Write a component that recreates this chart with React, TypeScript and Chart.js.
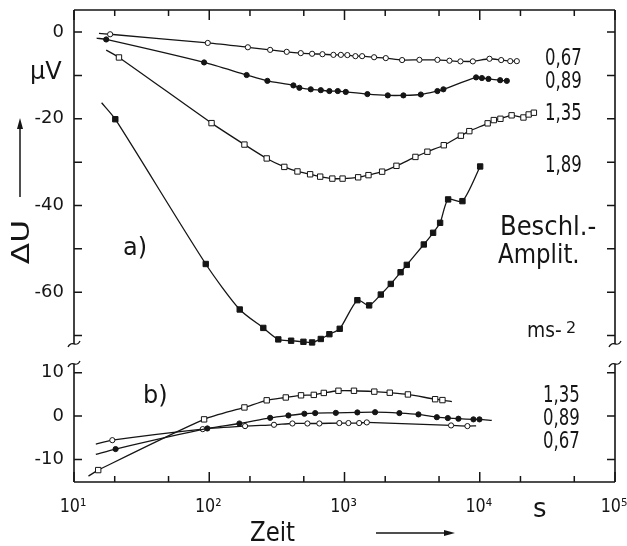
import React, { useEffect, useRef } from "react";
import { Chart, registerables } from "chart.js";

Chart.register(...registerables);

const FONT = '"DejaVu Sans", "Noto Sans", sans-serif';
const INK = "#151515";

// ---------- panel a) ----------
const tA067 = [15.3, 18.5, 97.5, 193, 282, 374, 475, 576, 687, 828, 940, 1050, 1204, 1350, 1655, 2020, 2666, 3580, 4866, 5970, 7200, 8890, 11800, 14400, 16800, 18800];
const vA067 = [-0.3, -0.5, -2.5, -3.5, -4.1, -4.55, -4.85, -5.0, -5.1, -5.25, -5.25, -5.3, -5.55, -5.55, -5.8, -6.0, -6.45, -6.4, -6.4, -6.6, -6.75, -6.75, -6.15, -6.45, -6.7, -6.7];
const bareA067 = [0];

const tA089 = [14.7, 17.3, 91.6, 189, 269, 419, 464, 563, 668, 773, 892, 1022, 1477, 2089, 2726, 3667, 4864, 5386, 9396, 10370, 11600, 14150, 15860];
const vA089 = [-1.4, -1.7, -7.0, -9.9, -11.25, -12.3, -12.85, -13.2, -13.4, -13.6, -13.6, -13.8, -14.3, -14.6, -14.6, -14.4, -13.6, -13.2, -10.45, -10.6, -10.8, -11.1, -11.25];
const bareA089 = [0];

const tA135 = [17.3, 21.5, 104, 182, 266, 359, 449, 557, 661, 813, 968, 1262, 1504, 1898, 2422, 3344, 4101, 5420, 7250, 8374, 11440, 12700, 14220, 17200, 21040, 23000, 25130];
const vA135 = [-4.15, -5.85, -21.0, -25.95, -29.15, -31.1, -32.15, -32.8, -33.35, -33.8, -33.8, -33.5, -33.0, -32.2, -30.85, -28.8, -27.6, -26.1, -23.9, -22.85, -21.05, -20.3, -20.0, -19.2, -19.7, -19.0, -18.6];
const bareA135 = [0];

const tA189 = [16.0, 20.2, 94.2, 168, 251, 324, 403, 497, 576, 668, 773, 922, 1245, 1521, 1856, 2199, 2598, 2888, 3858, 4521, 5093, 5837, 7448, 10070];
const vA189 = [-16.3, -20.1, -53.5, -64.0, -68.25, -70.9, -71.2, -71.45, -71.6, -70.8, -69.7, -68.45, -61.85, -63.05, -60.55, -58.1, -55.4, -53.7, -49.0, -46.3, -44.0, -38.6, -39.0, -31.0];
const bareA189 = [0];

// ---------- panel b) ----------
const tB135 = [12.8, 15.1, 91.6, 182, 266, 368, 477, 593, 703, 902, 1175, 1661, 2161, 2944, 4679, 5299, 6223];
const vB135 = [-13.85, -12.45, -0.75, 2.0, 3.65, 4.3, 4.8, 4.9, 5.35, 5.85, 5.85, 5.65, 5.4, 5.0, 3.9, 3.7, 3.35];
const bareB135 = [0, 16];

const tB089 = [14.5, 20.3, 96.8, 167, 282, 385, 505, 607, 863, 1245, 1683, 2546, 3522, 4816, 5808, 6955, 8980, 9950, 12270];
const vB089 = [-8.85, -7.6, -2.85, -1.7, -0.4, 0.15, 0.55, 0.7, 0.75, 0.85, 0.9, 0.7, 0.4, -0.25, -0.45, -0.6, -0.75, -0.75, -1.0];
const bareB089 = [0, 18];

const tB067 = [14.5, 19.2, 89.5, 184, 301, 412, 532, 652, 916, 1069, 1283, 1462, 6138, 8107, 9400];
const vB067 = [-6.45, -5.55, -3.0, -2.3, -2.0, -1.7, -1.7, -1.7, -1.6, -1.6, -1.6, -1.45, -2.15, -2.3, -2.25];
const bareB067 = [0, 14];

// ---------- axes / labels ----------
const X_MIN = 10;
const X_MAX = 100000;
const A_MIN = -73.8;
const A_MAX = 5.1;
const B_MIN = -15.2;
const B_MAX = 14.8;
const yTicksA = [-70, -60, -50, -40, -30, -20, -10, 0];
const yLabelsA = [-60, -40, -20, 0];
const yTicksB = [-10, 0, 10];
const xDecades = [10, 100, 1000, 10000, 100000];
const xDecadeLabels = ["10¹", "10²", "10³", "10⁴", "10⁵"];
const xMinorFactors = [2, 5];
const curveLabelsA = ["0,67", "0,89", "1,35", "1,89"];
const curveLabelsB = ["1,35", "0,89", "0,67"];

function series(t: number[], v: number[], bare: number[], style: string, filled: boolean, yAxisID: string) {
  const r = style === "rect" ? 3.8 : 2.6;
  return {
    data: t.map((x, i) => ({ x, y: v[i] })),
    xAxisID: "x",
    yAxisID,
    borderColor: INK,
    borderWidth: 1.3,
    tension: 0.25,
    fill: false,
    pointStyle: style,
    pointRadius: (c: any) => (bare.includes(c.dataIndex) ? 0 : r),
    pointBackgroundColor: filled ? INK : "#fff",
    pointBorderColor: INK,
    pointBorderWidth: 1,
  };
}

function txt(ctx: CanvasRenderingContext2D, s: string, x: number, y: number, size: number, o: any = {}) {
  ctx.save();
  ctx.translate(x, y);
  if (o.rot) ctx.rotate(o.rot);
  ctx.scale(o.sx ?? 1, 1);
  ctx.font = `${o.weight ?? "normal"} ${size}px ${FONT}`;
  ctx.fillStyle = INK;
  ctx.textAlign = o.align ?? "left";
  ctx.textBaseline = o.baseline ?? "alphabetic";
  ctx.fillText(s, 0, 0);
  ctx.restore();
}

function squiggle(ctx: CanvasRenderingContext2D, x: number, y: number) {
  ctx.beginPath();
  ctx.moveTo(x - 6, y + 3);
  ctx.bezierCurveTo(x - 2, y - 5, x + 2, y + 5, x + 6, y - 3);
  ctx.stroke();
}

function arrow(ctx: CanvasRenderingContext2D, x1: number, y1: number, x2: number, y2: number) {
  const a = Math.atan2(y2 - y1, x2 - x1);
  ctx.beginPath();
  ctx.moveTo(x1, y1);
  ctx.lineTo(x2 - 8 * Math.cos(a), y2 - 8 * Math.sin(a));
  ctx.stroke();
  ctx.beginPath();
  ctx.moveTo(x2, y2);
  ctx.lineTo(x2 - 11 * Math.cos(a) + 3 * Math.sin(a), y2 - 11 * Math.sin(a) - 3 * Math.cos(a));
  ctx.lineTo(x2 - 11 * Math.cos(a) - 3 * Math.sin(a), y2 - 11 * Math.sin(a) + 3 * Math.cos(a));
  ctx.closePath();
  ctx.fill();
}

const decor = {
  id: "decor",
  afterDraw(chart: any) {
    const ctx: CanvasRenderingContext2D = chart.ctx;
    const { left, right, top, bottom } = chart.chartArea;
    const xs = chart.scales.x;
    const ya = chart.scales.ya;
    const yb = chart.scales.yb;
    const boundary = ya.top < yb.top ? ya.bottom : yb.bottom;
    const gT = boundary - 8;
    const gB = boundary + 12;
    ctx.save();
    ctx.strokeStyle = INK;
    ctx.fillStyle = INK;
    ctx.lineWidth = 1.6;
    ctx.beginPath();
    ctx.moveTo(left, top); ctx.lineTo(right, top);
    ctx.moveTo(left, bottom); ctx.lineTo(right, bottom);
    ctx.moveTo(left, top); ctx.lineTo(left, gT);
    ctx.moveTo(left, gB); ctx.lineTo(left, bottom);
    ctx.moveTo(right, top); ctx.lineTo(right, gT);
    ctx.moveTo(right, gB); ctx.lineTo(right, bottom);
    ctx.stroke();
    ctx.lineWidth = 1.3;
    squiggle(ctx, left, gT); squiggle(ctx, left, gB);
    squiggle(ctx, right, gT); squiggle(ctx, right, gB);

    // x ticks (inward, top and bottom)
    ctx.lineWidth = 1.5;
    ctx.beginPath();
    xDecades.forEach((d) => {
      [1, ...xMinorFactors].forEach((f) => {
        const v = d * f;
        if (v > X_MAX) return;
        const px = xs.getPixelForValue(v);
        const len = f === 1 ? 10 : 6;
        ctx.moveTo(px, bottom); ctx.lineTo(px, bottom - len);
        ctx.moveTo(px, top); ctx.lineTo(px, top + len);
      });
    });
    // y ticks (inward, left and right)
    yTicksA.forEach((v) => {
      const py = ya.getPixelForValue(v);
      ctx.moveTo(left, py); ctx.lineTo(left + 8, py);
      ctx.moveTo(right, py); ctx.lineTo(right - 8, py);
    });
    yTicksB.forEach((v) => {
      const py = yb.getPixelForValue(v);
      ctx.moveTo(left, py); ctx.lineTo(left + 8, py);
      ctx.moveTo(right, py); ctx.lineTo(right - 8, py);
    });
    ctx.stroke();

    // x decade labels, placed through the log scale
    xDecades.forEach((d, i) => {
      const px = xs.getPixelForValue(d);
      txt(ctx, xDecadeLabels[i], px - 1, bottom + 30, 19, { sx: 0.84, align: "center" });
    });

    // curve labels
    const baseA = [65, 88, 120, 172];
    curveLabelsA.forEach((s, i) => txt(ctx, s, 545, baseA[i], 23, { sx: 0.72 }));
    const baseB = [402, 425, 448];
    curveLabelsB.forEach((s, i) => txt(ctx, s, 543, baseB[i], 23, { sx: 0.72 }));

    txt(ctx, "Beschl.-", 500, 235, 27, { sx: 0.9 });
    txt(ctx, "Amplit.", 498, 263, 27, { sx: 0.85 });
    txt(ctx, "ms-", 527, 337, 22, { sx: 0.85 });
    txt(ctx, "2", 566, 333, 16);

    txt(ctx, "a)", 123, 255, 24);
    txt(ctx, "b)", 143, 403, 24);

    txt(ctx, "μV", 30, 79, 24);
    txt(ctx, "ΔU", 29, 242, 25, { rot: -Math.PI / 2, sx: 1.25, align: "center" });
    ctx.lineWidth = 1.5;
    arrow(ctx, 20, 197, 20, 118);

    txt(ctx, "Zeit", 250, 541, 26, { sx: 0.88 });
    arrow(ctx, 376, 533, 455, 533);
    txt(ctx, "s", 533, 517, 26);
    ctx.restore();
  },
};

function noPadV(s: any) {
  s.width = 74;
  s.paddingTop = 0;
  s.paddingBottom = 0;
}

export default function App() {
  const ref = useRef<HTMLCanvasElement | null>(null);
  useEffect(() => {
    if (!ref.current) return;
    const chart = new Chart(ref.current, {
      type: "line",
      data: {
        datasets: [
          series(tA067, vA067, bareA067, "circle", false, "ya"),
          series(tA089, vA089, bareA089, "circle", true, "ya"),
          series(tA135, vA135, bareA135, "rect", false, "ya"),
          series(tA189, vA189, bareA189, "rect", true, "ya"),
          series(tB135, vB135, bareB135, "rect", false, "yb"),
          series(tB089, vB089, bareB089, "circle", true, "yb"),
          series(tB067, vB067, bareB067, "circle", false, "yb"),
        ] as any,
      },
      options: {
        animation: false,
        responsive: false,
        events: [],
        layout: { padding: { top: 10, right: 12, left: 0, bottom: 0 } },
        plugins: { legend: { display: false }, tooltip: { enabled: false } },
        scales: {
          x: {
            type: "logarithmic",
            min: X_MIN,
            max: X_MAX,
            grid: { display: false, drawTicks: false },
            border: { display: false },
            ticks: { display: false },
            afterFit: (s: any) => {
              s.height = 64;
              s.paddingLeft = 0;
              s.paddingRight = 0;
            },
          },
          yb: {
            type: "linear",
            position: "left",
            stack: "v",
            stackWeight: (B_MAX - B_MIN),
            min: B_MIN,
            max: B_MAX,
            grid: { display: false, drawTicks: false },
            border: { display: false },
            afterBuildTicks: (s: any) => { s.ticks = yTicksB.map((value) => ({ value })); },
            ticks: {
              autoSkip: false,
              padding: 10,
              color: INK,
              font: { family: FONT, size: 18 },
              callback: (v: any) => String(v),
            },
            afterFit: noPadV,
          },
          ya: {
            type: "linear",
            position: "left",
            stack: "v",
            stackWeight: (A_MAX - A_MIN),
            min: A_MIN,
            max: A_MAX,
            grid: { display: false, drawTicks: false },
            border: { display: false },
            afterBuildTicks: (s: any) => { s.ticks = yTicksA.map((value) => ({ value })); },
            ticks: {
              autoSkip: false,
              padding: 10,
              color: INK,
              font: { family: FONT, size: 18 },
              callback: (v: any) => (yLabelsA.includes(Number(v)) ? String(v) : ""),
            },
            afterFit: noPadV,
          },
        },
      } as any,
      plugins: [decor],
    });
    return () => chart.destroy();
  }, []);
  return (
    <div style={{ position: "fixed", left: 0, top: 0, width: 627, height: 546, background: "#fff" }}>
      <canvas ref={ref} width={627} height={546} style={{ display: "block" }} />
    </div>
  );
}
